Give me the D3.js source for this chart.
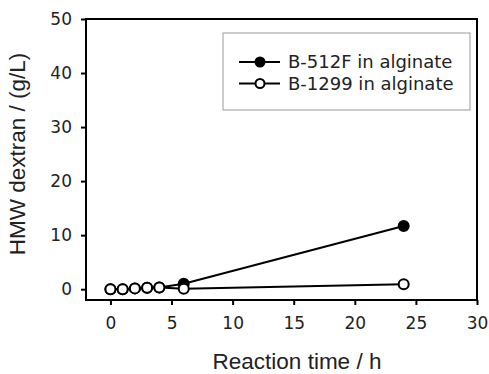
<!DOCTYPE html>
<html>
<head>
<meta charset="utf-8">
<script src="https://cdn.jsdelivr.net/npm/d3@7"></script>
<style>
  body { margin: 0; background: #fff; }
  svg { display: block; }
</style>
</head>
<body>
<svg id="chart" width="489" height="374"></svg>
<script>
// Data
const times = [0, 1, 2, 3, 4, 6, 24];
const b512F = [0, 0, 0.15, 0.25, 0.3, 1.0, 11.7];
const b1299 = [0, 0, 0.15, 0.25, 0.3, 0.1, 0.9];
const xTicks = [0, 5, 10, 15, 20, 25, 30];
const yTicks = [0, 10, 20, 30, 40, 50];
const seriesNames = ["B-512F in alginate", "B-1299 in alginate"];

const svg = d3.select("#chart");
const plot = { left: 86, right: 477, top: 19, bottom: 300 };

const x = d3.scaleLinear().domain([-2, 30]).range([plot.left, plot.right]);
const y = d3.scaleLinear().domain([-2, 50]).range([plot.bottom, plot.top]);

const tickFont = "'DejaVu Sans', Verdana, sans-serif";

// plot frame
svg.append("rect")
  .attr("x", plot.left).attr("y", plot.top)
  .attr("width", plot.right - plot.left).attr("height", plot.bottom - plot.top)
  .attr("fill", "none").attr("stroke", "#000").attr("stroke-width", 2);

// x axis
const xAxis = svg.append("g")
  .attr("transform", `translate(0,${plot.bottom})`)
  .call(d3.axisBottom(x).tickValues(xTicks).tickSize(5).tickPadding(12));
xAxis.select(".domain").remove();
xAxis.selectAll("line").attr("stroke-width", 2);
xAxis.selectAll("text").style("font-family", tickFont).style("font-size", "17px").attr("fill", "#222");

// y axis
const yAxis = svg.append("g")
  .attr("transform", `translate(${plot.left},0)`)
  .call(d3.axisLeft(y).tickValues(yTicks).tickSize(5).tickPadding(9));
yAxis.select(".domain").remove();
yAxis.selectAll("line").attr("stroke-width", 2);
yAxis.selectAll("text").style("font-family", tickFont).style("font-size", "17px").attr("fill", "#222");

// axis titles
const titleFont = "'Liberation Sans', Arial, sans-serif";
svg.append("text")
  .attr("x", (211 + 383) / 2).attr("y", 369)
  .attr("text-anchor", "middle")
  .style("font-family", titleFont).style("font-size", "22.5px").attr("fill", "#222")
  .text("Reaction time / h");

svg.append("text")
  .attr("transform", `translate(25,154) rotate(-90)`)
  .attr("text-anchor", "middle")
  .style("font-family", titleFont).style("font-size", "22.5px").attr("fill", "#222")
  .text("HMW dextran / (g/L)");

// series
const line = d3.line().x(d => x(d[0])).y(d => y(d[1]));
const series = [
  { values: b512F, fill: "#000" },
  { values: b1299, fill: "#fff" }
];

series.forEach(s => {
  const pts = times.map((t, i) => [t, s.values[i]]);
  svg.append("path")
    .datum(pts)
    .attr("d", line)
    .attr("fill", "none")
    .attr("stroke", "#000")
    .attr("stroke-width", 2);
});

series.forEach(s => {
  const pts = times.map((t, i) => [t, s.values[i]]);
  svg.append("g").selectAll("circle")
    .data(pts)
    .join("circle")
    .attr("cx", d => x(d[0]))
    .attr("cy", d => y(d[1]))
    .attr("r", 5)
    .attr("fill", s.fill)
    .attr("stroke", "#000")
    .attr("stroke-width", 2);
});

// legend
const legend = svg.append("g");
legend.append("rect")
  .attr("x", 223).attr("y", 33).attr("width", 247).attr("height", 77)
  .attr("fill", "#fff").attr("stroke", "#999").attr("stroke-width", 1);

series.forEach((s, i) => {
  const ly = 62 + i * 21.5;
  legend.append("line")
    .attr("x1", 239).attr("x2", 280).attr("y1", ly).attr("y2", ly)
    .attr("stroke", "#000").attr("stroke-width", 2);
  legend.append("circle")
    .attr("cx", 260).attr("cy", ly).attr("r", 4.5)
    .attr("fill", s.fill).attr("stroke", "#000").attr("stroke-width", 2);
  legend.append("text")
    .attr("x", 288).attr("y", ly).attr("dy", "0.35em")
    .style("font-family", tickFont).style("font-size", "18px").attr("fill", "#222")
    .text(seriesNames[i]);
});
</script>
</body>
</html>
